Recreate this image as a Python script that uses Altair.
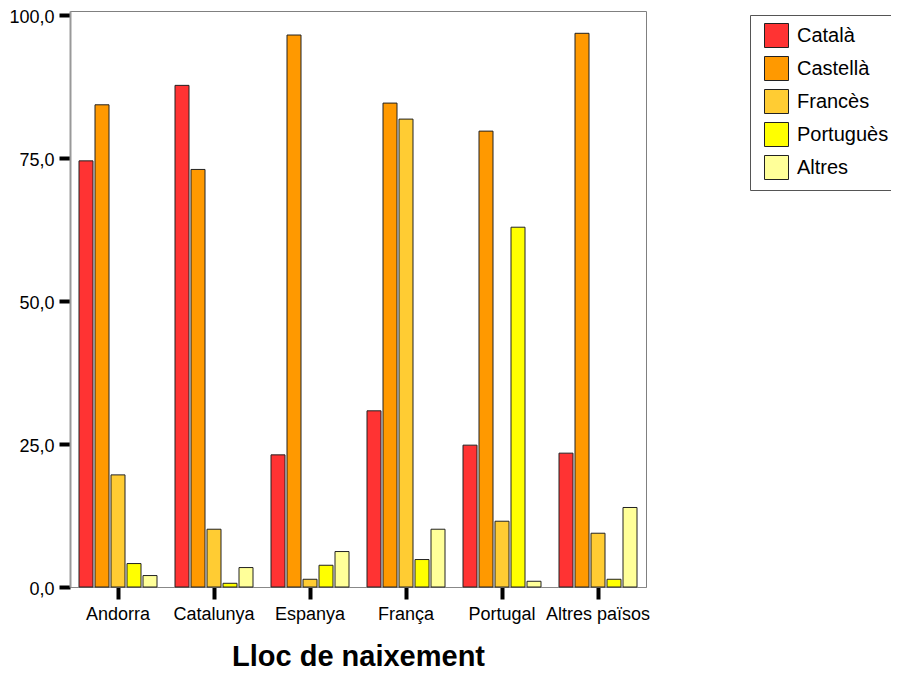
import altair as alt
import pandas as pd

lloc = ["Andorra", "Catalunya", "Espanya", "França", "Portugal", "Altres països"]
llengues = ["Català", "Castellà", "Francès", "Portuguès", "Altres"]
catala = [74.5, 87.7, 23.1, 30.8, 24.8, 23.4]
castella = [84.3, 73.0, 96.5, 84.6, 79.7, 96.8]
frances = [19.6, 10.1, 1.35, 81.8, 11.5, 9.4]
portugues = [4.1, 0.65, 3.8, 4.8, 62.9, 1.35]
altres = [2.0, 3.4, 6.2, 10.1, 1.0, 13.9]
colors = ["#FF3333", "#FF9900", "#FFCC33", "#FFFF00", "#FFFF99"]
y_ticks = [0, 25, 50, 75, 100]

series = [catala, castella, frances, portugues, altres]
rows = []
for llengua, vals in zip(llengues, series):
    for l, v in zip(lloc, vals):
        rows.append({"lloc": l, "llengua": llengua, "valor": v})
df = pd.DataFrame(rows)

FONT = "Liberation Sans"

chart = alt.Chart(df).mark_bar(stroke="#222222", strokeWidth=1).encode(
    x=alt.X(
        "lloc:N",
        sort=lloc,
        scale=alt.Scale(paddingInner=16 / 96, paddingOuter=1 / 12),
        axis=alt.Axis(
            title="Lloc de naixement",
            labelAngle=0,
            labelFont=FONT,
            labelFontSize=18,
            labelColor="black",
            labelPadding=6,
            tickColor="black",
            tickWidth=4,
            tickSize=12,
            domainColor="#888888",
            titleFont=FONT,
            titleFontSize=29,
            titleFontWeight="bold",
            titleColor="black",
            titlePadding=19,
            grid=False,
        ),
    ),
    xOffset=alt.XOffset(
        "llengua:N",
        sort=llengues,
        scale=alt.Scale(paddingInner=0.125, paddingOuter=0.0625),
    ),
    y=alt.Y(
        "valor:Q",
        scale=alt.Scale(domain=[0, 100.7], nice=False),
        axis=alt.Axis(
            title=None,
            values=y_ticks,
            labelExpr="replace(format(datum.value, '.1f'), '.', ',')",
            labelFont=FONT,
            labelFontSize=18,
            labelColor="black",
            labelPadding=5,
            labelOffset=2,
            tickColor="black",
            tickWidth=4,
            tickSize=11,
            domainColor="#999999",
            domainWidth=2,
            grid=False,
        ),
    ),
    color=alt.Color(
        "llengua:N",
        sort=llengues,
        scale=alt.Scale(domain=llengues, range=colors),
        legend=alt.Legend(
            title=None,
            orient="none",
            legendX=680,
            legendY=4,
            padding=8,
            symbolOffset=6,
            strokeColor="#555555",
            symbolType="square",
            symbolSize=576,
            symbolStrokeColor="#222222",
            symbolStrokeWidth=1,
            labelFont=FONT,
            labelFontSize=20,
            labelColor="black",
            labelOffset=8,
            rowPadding=4,
        ),
    ),
).properties(
    width=576,
    height=576,
    autosize="none",
    padding={"left": 62, "top": 3, "right": 245, "bottom": 84},
).configure_view(
    stroke="#808080",
    strokeWidth=1,
)

chart.save("out.html", embed_options={"renderer": "svg", "actions": False})
